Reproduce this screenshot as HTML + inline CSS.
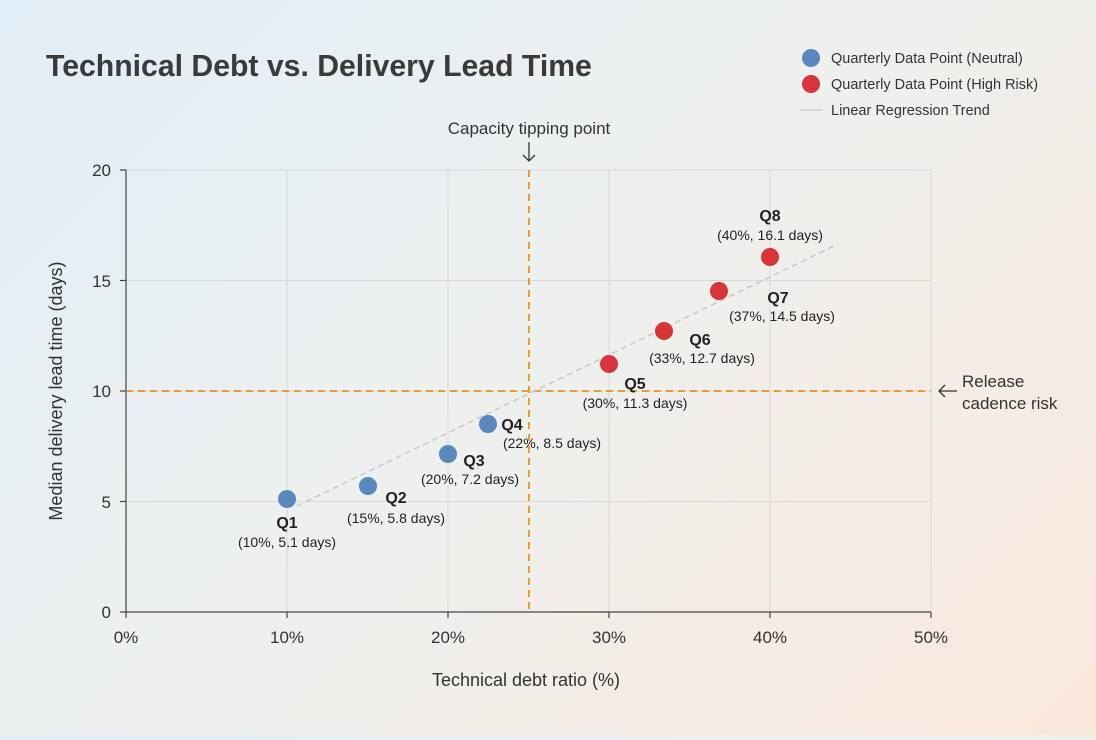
<!DOCTYPE html>
<html><head><meta charset="utf-8"><style>
html,body{margin:0;padding:0;}
body{width:1096px;height:735px;overflow:hidden;background:linear-gradient(135deg,#e2eef7 0%,#eef0ee 50%,#fbe8dc 100%);font-family:"Liberation Sans",sans-serif;}
</style></head><body>
<svg width="1096" height="735" xmlns="http://www.w3.org/2000/svg" font-family="Liberation Sans, sans-serif">
<text x="46" y="76" font-size="30.2" font-weight="bold" fill="#3a3a3a">Technical Debt vs. Delivery Lead Time</text>
<circle cx="811" cy="58" r="9" fill="#5a87bd"/>
<text x="831" y="63" font-size="14.5" fill="#333">Quarterly Data Point (Neutral)</text>
<circle cx="811" cy="84" r="9" fill="#d9343a"/>
<text x="831" y="89" font-size="14.5" fill="#333">Quarterly Data Point (High Risk)</text>
<line x1="800" y1="110" x2="822" y2="110" stroke="#ccc" stroke-width="1.5"/>
<text x="831" y="115" font-size="14.5" fill="#333">Linear Regression Trend</text>
<g stroke="#d8d8d8" stroke-width="1">
<line x1="287" y1="170" x2="287" y2="612"/><line x1="448" y1="170" x2="448" y2="612"/><line x1="609" y1="170" x2="609" y2="612"/><line x1="770" y1="170" x2="770" y2="612"/><line x1="931" y1="170" x2="931" y2="612"/>
<line x1="126" y1="170" x2="931" y2="170"/><line x1="126" y1="280.5" x2="931" y2="280.5"/><line x1="126" y1="391" x2="931" y2="391"/><line x1="126" y1="501.5" x2="931" y2="501.5"/>
</g>
<g stroke="#444" stroke-width="1.2">
<line x1="126" y1="170" x2="126" y2="612"/><line x1="126" y1="612" x2="931" y2="612"/>
<line x1="120" y1="170" x2="126" y2="170"/><line x1="120" y1="280.5" x2="126" y2="280.5"/><line x1="120" y1="391" x2="126" y2="391"/><line x1="120" y1="501.5" x2="126" y2="501.5"/><line x1="120" y1="612" x2="126" y2="612"/>
<line x1="126" y1="612" x2="126" y2="618"/><line x1="287" y1="612" x2="287" y2="618"/><line x1="448" y1="612" x2="448" y2="618"/><line x1="609" y1="612" x2="609" y2="618"/><line x1="770" y1="612" x2="770" y2="618"/><line x1="931" y1="612" x2="931" y2="618"/>
</g>
<g font-size="17" fill="#333" text-anchor="end">
<text x="111" y="176">20</text><text x="111" y="287">15</text><text x="111" y="397">10</text><text x="111" y="508">5</text><text x="111" y="618">0</text>
</g>
<g font-size="17" fill="#333" text-anchor="middle">
<text x="126" y="643">0%</text><text x="287" y="643">10%</text><text x="448" y="643">20%</text><text x="609" y="643">30%</text><text x="770" y="643">40%</text><text x="931" y="643">50%</text>
<text x="526" y="686" font-size="18">Technical debt ratio (%)</text>
</g>
<text transform="translate(62,391) rotate(-90)" font-size="18" fill="#333" text-anchor="middle">Median delivery lead time (days)</text>
<g stroke="#ec9a2c" stroke-width="2" stroke-dasharray="7,5">
<line x1="529" y1="170" x2="529" y2="612"/><line x1="126" y1="391" x2="931" y2="391"/>
</g>
<text x="529" y="134" font-size="17" fill="#333" text-anchor="middle">Capacity tipping point</text>
<g stroke="#333" stroke-width="1.3" fill="none">
<path d="M529 142 V161 M523 155 L529 161 L535 155"/>
<path d="M957 391 H939 M945 385 L939 391 L945 397"/>
</g>
<text x="962" y="387" font-size="17" fill="#333">Release</text>
<text x="962" y="409" font-size="17" fill="#333">cadence risk</text>
<line x1="297" y1="506" x2="838" y2="244" stroke="#c8c8c8" stroke-width="1.5" stroke-dasharray="6,4"/>
<g fill="#5a87bd"><circle cx="287" cy="499" r="9"/><circle cx="368" cy="486" r="9"/><circle cx="448" cy="454" r="9"/><circle cx="488" cy="424" r="9"/></g>
<g fill="#d9343a"><circle cx="609" cy="364" r="9"/><circle cx="664" cy="331" r="9"/><circle cx="719" cy="291" r="9"/><circle cx="770" cy="257" r="9"/></g>
<g font-size="14" fill="#222">
<text x="287" y="528" font-weight="bold" font-size="16" text-anchor="middle">Q1</text><text x="287" y="547" text-anchor="middle">(10%, 5.1 days)</text>
<text x="396" y="503" font-weight="bold" font-size="16" text-anchor="middle">Q2</text><text x="396" y="523" text-anchor="middle">(15%, 5.8 days)</text>
<text x="474" y="466" font-weight="bold" font-size="16" text-anchor="middle">Q3</text><text x="470" y="484" text-anchor="middle">(20%, 7.2 days)</text>
<text x="512" y="430" font-weight="bold" font-size="16" text-anchor="middle">Q4</text><text x="552" y="448" text-anchor="middle">(22%, 8.5 days)</text>
<text x="635" y="389" font-weight="bold" font-size="16" text-anchor="middle">Q5</text><text x="635" y="408" text-anchor="middle">(30%, 11.3 days)</text>
<text x="700" y="345" font-weight="bold" font-size="16" text-anchor="middle">Q6</text><text x="702" y="363" text-anchor="middle">(33%, 12.7 days)</text>
<text x="778" y="303" font-weight="bold" font-size="16" text-anchor="middle">Q7</text><text x="782" y="321" text-anchor="middle">(37%, 14.5 days)</text>
<text x="770" y="221" font-weight="bold" font-size="16" text-anchor="middle">Q8</text><text x="770" y="240" text-anchor="middle">(40%, 16.1 days)</text>
</g>
</svg>
</body></html>
